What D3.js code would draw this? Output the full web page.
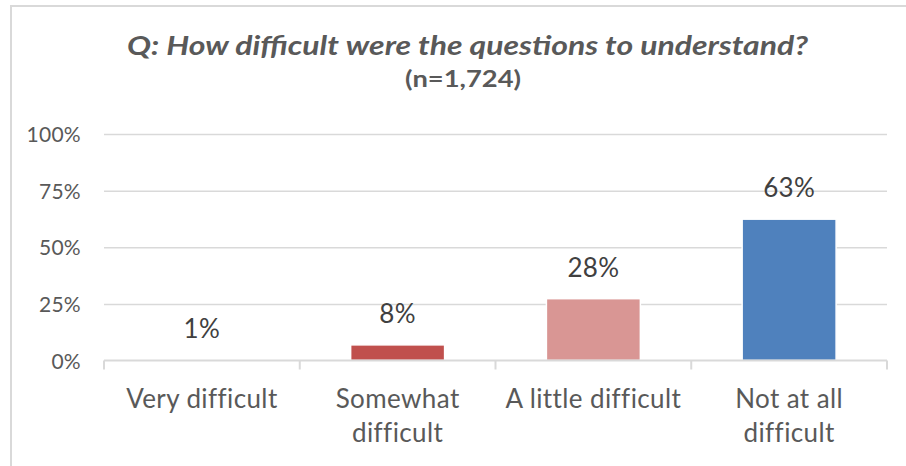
<!DOCTYPE html>
<html><head><meta charset="utf-8">
<script src="https://cdn.jsdelivr.net/npm/d3@7"></script>
<style>html,body{margin:0;padding:0;background:#fff;}svg{display:block;}</style>
</head><body>
<svg id="chart" width="906" height="466"></svg>
<script>
const categories = [["Very difficult"], ["Somewhat", "difficult"], ["A little difficult"], ["Not at all", "difficult"]];
const values = [0.4, 6.9, 27.3, 62.4];
const valueLabels = ["1%", "8%", "28%", "63%"];
const barColors = ["#943634", "#C0504D", "#D99694", "#4F81BD"];
const yTicks = [0, 25, 50, 75, 100];
const titleText = "Q: How difficult were the questions to understand?";
const subtitleText = "(n=1,724)";

(function () {
const svg = d3.select("#chart");
const font = "Lato, 'Open Sans', sans-serif";
const textColor = "#595959";

// outer border
svg.append("path").attr("d", "M11,466 L11,6 L906,6").attr("fill", "none")
  .attr("stroke", "#D9D9D9").attr("stroke-width", 2);

const pLeft = 104, pRight = 887, pTop = 134, pBottom = 360.5;
const idx = categories.map((d, i) => i);
const x = d3.scaleBand().domain(idx).range([pLeft, pRight]).paddingInner(0.52).paddingOuter(0.26);
const y = d3.scaleLinear().domain([0, 100]).range([pBottom, pTop]);

// gridlines
const grid = svg.append("g").attr("transform", `translate(${pLeft},0)`)
  .call(d3.axisLeft(y).tickValues(yTicks.slice(1)).tickSize(-(pRight - pLeft)).tickFormat(""));
grid.select(".domain").remove();
grid.selectAll("line").attr("stroke", "#D9D9D9").attr("stroke-width", 1.5);

// y tick labels
const yAx = svg.append("g").attr("transform", `translate(${pLeft - 23},0)`)
  .call(d3.axisLeft(y).tickValues(yTicks).tickSize(0).tickPadding(0).tickFormat(d => d + "%"));
yAx.select(".domain").remove();
yAx.selectAll("text").attr("font-family", font).attr("font-size", 21).attr("fill", textColor)
  .attr("letter-spacing", 0.3).attr("dy", "0.36em");

// bars
svg.append("g").selectAll("rect").data(values).join("rect")
  .attr("x", (d, i) => x(i)).attr("width", x.bandwidth())
  .attr("y", d => y(d)).attr("height", d => pBottom - y(d))
  .attr("fill", (d, i) => barColors[i])
  .attr("stroke", "#fff").attr("stroke-width", 1.5);

// x axis
const xAx = svg.append("g").attr("transform", `translate(0,${pBottom})`)
  .call(d3.axisBottom(x).tickSize(0).tickFormat(""));
xAx.select(".domain").attr("stroke", "#D9D9D9").attr("stroke-width", 2)
  .attr("d", `M${pLeft},0H${pRight}`);
const boundaries = idx.map(i => x(i) - x.step() * x.paddingInner() / 2).concat([pRight]);
boundaries[0] = pLeft;
xAx.selectAll(".bnd").data(boundaries).join("line").attr("class", "bnd")
  .attr("x1", d => d).attr("x2", d => d).attr("y1", 0).attr("y2", 9)
  .attr("stroke", "#D9D9D9").attr("stroke-width", 2);

// category labels
svg.append("g").selectAll("text").data(categories).join("text")
  .attr("x", (d, i) => x(i) + x.bandwidth() / 2).attr("y", 408)
  .attr("text-anchor", "middle").attr("font-family", font).attr("font-size", 26).attr("fill", textColor)
  .attr("letter-spacing", 0.4)
  .selectAll("tspan").data(d => d).join("tspan")
  .attr("x", function () { return d3.select(this.parentNode).attr("x"); })
  .attr("dy", (d, j) => j === 0 ? 0 : 33.5).text(d => d);

// value labels
svg.append("g").selectAll("text").data(values).join("text")
  .attr("x", (d, i) => x(i) + x.bandwidth() / 2).attr("y", d => y(d) - 22)
  .attr("text-anchor", "middle").attr("font-family", font).attr("font-size", 26).attr("fill", "#404040")
  .attr("letter-spacing", 0.3)
  .text((d, i) => valueLabels[i]);

// titles
svg.append("text").attr("x", 467.5).attr("y", 55).attr("text-anchor", "middle")
  .attr("font-family", font).attr("font-size", 27).attr("font-weight", "bold").attr("font-style", "italic")
  .attr("textLength", 681).attr("lengthAdjust", "spacingAndGlyphs")
  .attr("fill", textColor).text(titleText);
svg.append("text").attr("x", 463).attr("y", 86.5).attr("text-anchor", "middle")
  .attr("font-family", font).attr("font-size", 23).attr("font-weight", "bold")
  .attr("textLength", 116).attr("lengthAdjust", "spacingAndGlyphs")
  .attr("fill", textColor).text(subtitleText);
})();
</script>
</body></html>
